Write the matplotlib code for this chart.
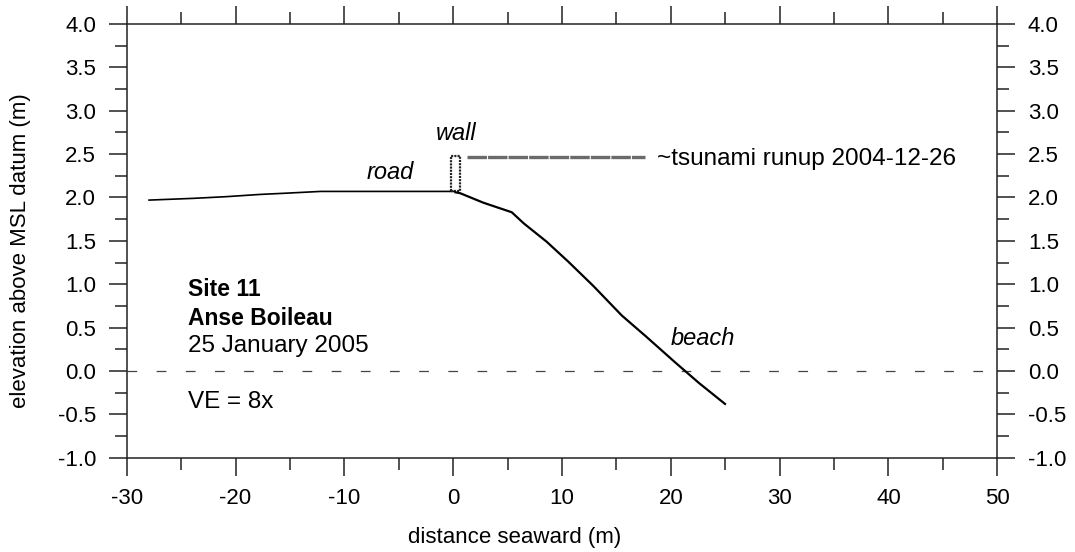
import matplotlib
matplotlib.use("Agg")
import matplotlib.pyplot as plt
from matplotlib.ticker import MultipleLocator, FormatStrFormatter

plt.rcParams['font.family'] = ['Liberation Sans', 'DejaVu Sans']
plt.rcParams['lines.scale_dashes'] = False
plt.rcParams['axes.unicode_minus'] = False

# surveyed profile, Site 11 Anse Boileau
road_x = [-27.95, -23.9, -20.8, -17.8, -15.3, -12.2, 0.0]
road_y = [1.97, 1.99, 2.01, 2.035, 2.05, 2.07, 2.07]

wall_x = [-0.2, -0.2, 0.6, 0.6, -0.2]
wall_y = [2.07, 2.48, 2.48, 2.07, 2.07]

beach_x = [0.2, 0.63, 2.77, 5.38, 6.5, 8.59, 10.58, 12.88, 15.49, 17.7, 20.39, 22.6, 24.98]
beach_y = [2.06, 2.05, 1.94, 1.83, 1.70, 1.49, 1.26, 0.98, 0.64, 0.40, 0.10, -0.14, -0.38]

runup_x = [1.25, 17.6]
runup_y = [2.47, 2.47]

msl_x = [-30, 50]
msl_y = [0.0, 0.0]

fig = plt.figure(figsize=(10.75, 5.52), dpi=100)
ax = fig.add_axes([0.1179, 0.1708, 0.8098, 0.7857])

ax.plot(msl_x, msl_y, color='#444444', lw=0.9, dashes=(7, 14))
ax.plot(road_x, road_y, color='black', lw=1.2)
ax.plot(wall_x, wall_y, color='#222222', lw=1.6, ls=(0, (1.5, 0.8)))
ax.plot(beach_x, beach_y, color='black', lw=1.6)
ax.plot(runup_x, runup_y, color='#6a6a6a', lw=2.4, dashes=(14, 0.8))

ax.text(18.7, 2.375, '~tsunami runup 2004-12-26', fontsize=17.5, va='baseline', ha='left')
ax.text(0.26, 2.66, 'wall', fontsize=17, style='italic', va='baseline', ha='center')
ax.text(-5.8, 2.21, 'road', fontsize=17, style='italic', va='baseline', ha='center')
ax.text(22.9, 0.30, 'beach', fontsize=17, style='italic', va='baseline', ha='center')
ax.text(-24.4, 0.865, 'Site 11', fontsize=16.5, weight='bold', va='baseline')
ax.text(-24.4, 0.53, 'Anse Boileau', fontsize=16.5, weight='bold', va='baseline')
ax.text(-24.4, 0.219, '25 January 2005', fontsize=17.5, va='baseline')
ax.text(-24.4, -0.426, 'VE = 8x', fontsize=17.5, va='baseline')

ax.set_xlim(-30, 50)
ax.set_ylim(-1.0, 4.0)
ax.xaxis.set_major_locator(MultipleLocator(10))
ax.xaxis.set_minor_locator(MultipleLocator(5))
ax.yaxis.set_major_locator(MultipleLocator(0.5))
ax.yaxis.set_minor_locator(MultipleLocator(0.25))
ax.yaxis.set_major_formatter(FormatStrFormatter('%.1f'))

ax.tick_params(which='both', direction='out', top=True, right=True,
               labelright=True, color='#222222', width=1.1)
ax.tick_params(which='major', length=13, labelsize=16, pad=9)
ax.tick_params(which='minor', length=8.5)
for s in ax.spines.values():
    s.set_linewidth(1.1)
    s.set_color('#222222')

ax.set_xlabel('distance seaward (m)', fontsize=16, va='center')
ax.xaxis.set_label_coords(0.446, -0.183)
ax.set_ylabel('elevation above MSL datum (m)', fontsize=16, va='center')
ax.yaxis.set_label_coords(-0.1226, 0.4766)

fig.savefig('out.png', dpi=100)
